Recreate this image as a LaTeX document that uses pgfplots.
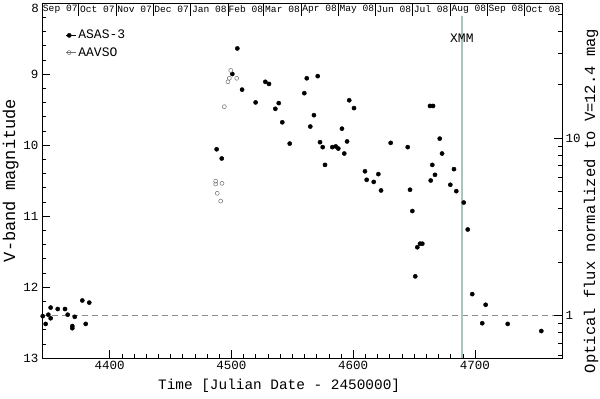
\documentclass[border=0pt]{standalone}
\usepackage{fontspec}
\setmainfont{Liberation Mono}
\usepackage{pgfplots}
\pgfplotsset{compat=1.18}
\definecolor{xmmline}{HTML}{A9C6BE}
\definecolor{refgray}{HTML}{8C8C8C}
\definecolor{circgray}{HTML}{6E6E6E}

% ASAS-3 photometry (JD-2450000, V mag)
\pgfplotstableread{
jd v
4345.1 12.41
4347.5 12.52
4349.7 12.39
4351.6 12.29
4351.6 12.44
4357.4 12.31
4363.4 12.31
4365.6 12.39
4369.4 12.55
4369.4 12.58
4371.4 12.42
4377.6 12.19
4380.4 12.52
4383.3 12.22
4487.9 10.06
4492.1 10.19
4500.8 9.00
4504.9 8.64
4508.8 9.22
4519.9 9.40
4527.9 9.11
4530.9 9.14
4536.1 9.49
4538.9 9.41
4541.8 9.68
4547.9 9.98
4559.9 9.27
4561.9 9.06
4564.8 9.74
4567.8 9.58
4570.9 9.03
4572.8 9.96
4575.0 10.03
4576.9 10.28
4582.9 10.03
4585.7 10.02
4587.8 10.05
4590.8 9.77
4592.7 10.12
4595.0 9.95
4596.8 9.37
4600.7 9.48
4609.7 10.37
4611.1 10.49
4616.9 10.52
4620.7 10.41
4622.9 10.64
4630.8 9.97
4644.8 10.03
4646.7 10.63
4648.6 10.93
4651.0 11.85
4652.7 11.44
4654.9 11.39
4656.8 11.39
4663.1 9.45
4665.6 9.45
4663.7 10.50
4665.0 10.28
4667.2 10.42
4671.1 9.91
4673.0 10.12
4679.8 10.56
4682.8 10.34
4684.7 10.65
4690.8 10.81
4694.1 11.19
4697.8 12.10
4706.0 12.51
4708.8 12.25
4726.9 12.52
4754.5 12.62
}\asas

% AAVSO visual estimates
\pgfplotstableread{
jd v
4487.1 10.51
4487.1 10.55
4488.4 10.68
4491.2 10.79
4492.3 10.54
4494.2 9.46
4497.2 9.11
4498.3 9.06
4499.5 8.95
4504.4 9.06
}\aavso

\begin{document}
\begin{tikzpicture}[x=1pt,y=1pt]
\useasboundingbox (-42,-41) rectangle (558,358);
\begin{axis}[
  at={(0,0)}, anchor=south west,
  scale only axis, width=520pt, height=355pt,
  xmin=4344.5, xmax=4771.5, ymin=8, ymax=13, y dir=reverse,
  xtick={4400,4500,4600,4700}, minor x tick num=9,
  ytick={8,9,10,11,12,13}, yticklabels={,9,10,11,12,13}, minor y tick num=4,
  xtick pos=bottom, ytick pos=left,
  tick align=inside,
  major tick length=8pt, minor tick length=4pt,
  tick style={black, line width=0.5pt},
  axis line style={line width=0.6pt},
  ticklabel style={font=\fontsize{12.5}{14}\selectfont},
  /pgf/number format/assume math mode=true,
  /pgf/number format/1000 sep={},
  xlabel={Time [Julian Date - 2450000]},
  ylabel={V-band magnitude},
  label style={font=\fontsize{14.4}{16}\selectfont},
  xlabel style={at={(ticklabel cs:0.456)}, yshift=-2pt},
  ylabel style={font=\fontsize{17}{19}\selectfont, yshift=-2pt},
  legend style={draw=none, fill=none, at={(0.04,0.935)}, anchor=north west,
    font=\fontsize{13}{15}\selectfont, row sep=3pt},
  legend image code/.code={\draw[#1] plot coordinates {(0pt,0pt)}; \path (-3pt,0pt) -- (7pt,0pt);},
  legend cell align=left,
  clip=false,
]
  \addplot[only marks, mark=*, mark size=2.1pt, black] table[x=jd, y=v] {\asas};
  \addlegendentry{ASAS-3}
  \addplot[only marks, mark=o, mark size=2pt, circgray, mark options={line width=0.5pt}] table[x=jd, y=v] {\aavso};
  \addlegendentry{AAVSO}

  % reference level V = 12.4
  \draw[refgray, dash pattern=on 6pt off 4pt, line width=0.5pt]
    (axis cs:4344.5,12.4) -- (axis cs:4771.5,12.4);

  % XMM epoch
  \draw[xmmline, line width=1.4pt] (axis cs:4689.3,8.18) -- (axis cs:4689.3,13);
  \node[font=\fontsize{13}{15}\selectfont] at (axis cs:4689.3,8.49) {XMM};

  % label of the top tick, pushed below the page edge
  \node[anchor=east, font=\fontsize{12.5}{14}\selectfont, inner sep=0pt]
    at ([xshift=-3pt,yshift=-5pt]axis cs:4344.5,8) {8};

  % month strip along the top
  \foreach \m in {4374.5,4405.5,4435.5,4466.5,4497.5,4526.5,4557.5,4587.5,4618.5,4648.5,4679.5,4710.5,4740.5}
    {\edef\tmp{\noexpand\draw[line width=0.5pt] (axis cs:\m,8) -- (axis cs:\m,8.18);}\tmp}
  \foreach \c/\lab in {4359.5/Sep 07,4390/Oct 07,4420.5/Nov 07,4451/Dec 07,4482/Jan 08,4512/Feb 08,4542/Mar 08,4572.5/Apr 08,4603/May 08,4633.5/Jun 08,4664/Jul 08,4695/Aug 08,4725.5/Sep 08,4756/Oct 08}
    {\edef\tmp{\noexpand\node[font=\noexpand\fontsize{9.6}{11}\noexpand\selectfont, inner sep=0pt] at (axis cs:\c,8.09) {\lab};}\tmp}
\end{axis}

\begin{axis}[
  at={(0,0)}, anchor=south west,
  scale only axis, width=520pt, height=355pt,
  xmin=4344.5, xmax=4771.5,
  ymode=log, ymin=0.57544, ymax=57.544,
  axis x line=none, axis y line*=right,
  ytick={1,10}, yticklabels={1,10},
  minor ytick={0.6,0.7,0.8,0.9,2,3,4,5,6,7,8,9,20,30,40,50},
  tick align=inside,
  major tick length=8pt, minor tick length=4pt,
  tick style={black, line width=0.5pt},
  axis line style={line width=0.6pt},
  ticklabel style={font=\fontsize{12.5}{14}\selectfont},
  /pgf/number format/assume math mode=true,
]
  \addplot[draw=none] coordinates {(4400,1)};
\end{axis}
\node[rotate=90, font=\fontsize{15.5}{17}\selectfont, inner sep=0pt]
  at (549,157) {Optical flux normalized to V=12.4 mag};
\end{tikzpicture}
\end{document}
